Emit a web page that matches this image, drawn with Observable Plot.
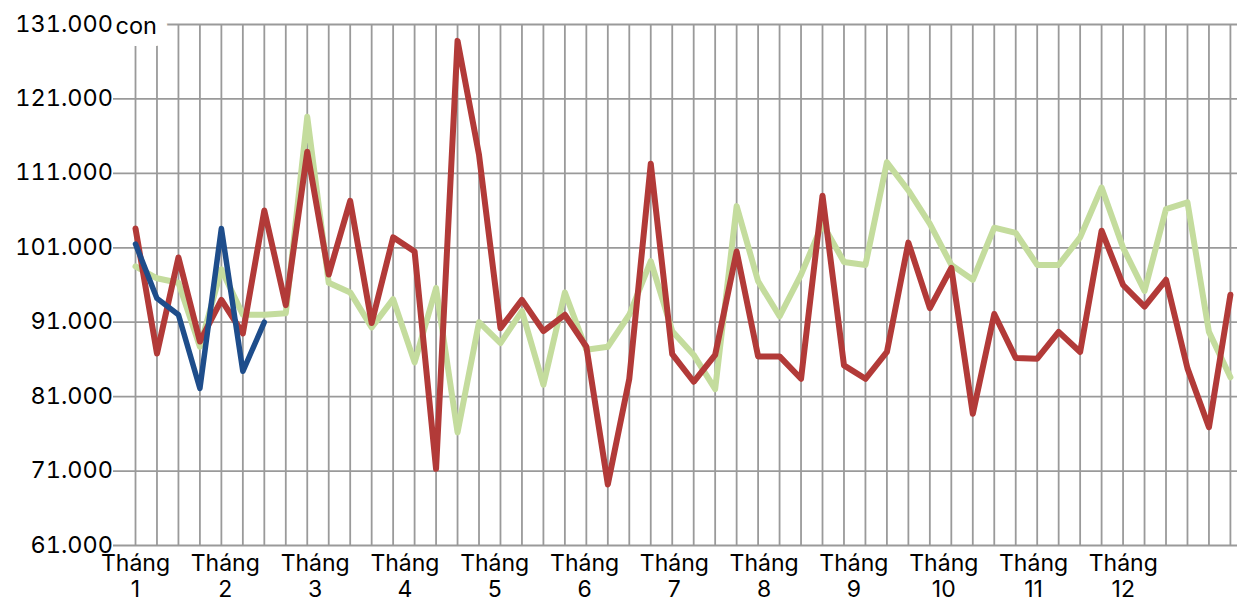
<!DOCTYPE html>
<html><head><meta charset="utf-8">
<script src="https://cdn.jsdelivr.net/npm/d3@7"></script>
<script src="https://cdn.jsdelivr.net/npm/@observablehq/plot@0.6"></script>
<style>html,body{margin:0;padding:0;background:#fff;overflow:hidden}</style>
</head><body><div id="chart"></div>
<script>
// week indices (1..52)
const weeks = d3.range(1, 53);

// series values (con)
const redValues = [103600, 86800, 99700, 88400, 94000, 89500, 106000, 93300, 113900, 97400,
  107300, 90900, 102400, 100500, 71300, 128800, 113500, 90200, 94000, 89800,
  92000, 87700, 69200, 83400, 112300, 86700, 83000, 86600, 100500, 86400,
  86400, 83400, 108000, 85200, 83400, 87000, 101700, 92900, 98300, 78700,
  92100, 86200, 86100, 89700, 87000, 103300, 96000, 93100, 96700, 84800,
  76900, 94700];
const greenValues = [98500, 96900, 96300, 87700, 98100, 92000, 92000, 92200, 118600, 96300,
  95000, 90300, 94100, 85600, 95600, 76200, 91000, 88200, 92500, 82600,
  95000, 87300, 87700, 92000, 99200, 89800, 86600, 82000, 106600, 96500,
  91800, 97400, 104200, 99100, 98700, 112500, 108700, 104200, 98700, 96700,
  103700, 103000, 98700, 98700, 102400, 109100, 101000, 95200, 106200, 107100,
  89700, 83600];
const blueValues = [101500, 94200, 92000, 82100, 103600, 84400, 91000];

// y ticks and labels
const yTicks = [61000, 71000, 81000, 91000, 101000, 111000, 121000, 131000];
const yTickLabels = ["61.000", "71.000", "81.000", "91.000", "101.000", "111.000", "121.000", "131.000"];
const yUnit = "con";

// month labels and their positions on the week axis
const monthLabels = ["Tháng 1", "Tháng 2", "Tháng 3", "Tháng 4", "Tháng 5", "Tháng 6",
  "Tháng 7", "Tháng 8", "Tháng 9", "Tháng 10", "Tháng 11", "Tháng 12"];
const monthPositions = [1, 5.18, 9.37, 13.55, 17.73, 21.92, 26.1, 30.28, 34.46, 38.65, 42.83, 47.01];

const toRows = (vals) => vals.map((v, i) => ({week: weeks[i], value: v}));
const xMin = -0.025, xMax = 52.33;

const chart = Plot.plot({
  width: 1237, height: 603,
  marginLeft: 113, marginRight: 0, marginTop: 24, marginBottom: 58,
  x: {domain: [xMin, xMax], axis: null},
  y: {domain: [61000, 131000], axis: null},
  style: {fontFamily: "Inter, 'Liberation Sans', sans-serif", fontSize: "23px", color: "#000", background: "#fff"},
  marks: [
    Plot.ruleY(yTicks, {stroke: "#9a9a9a", strokeWidth: 1.8}),
    Plot.ruleX(weeks, {y1: 61000, y2: 131000, stroke: "#9a9a9a", strokeWidth: 1.8}),
    Plot.text([yUnit], {x: xMin, y: 131000, text: d => d, textAnchor: "start", dx: 2, dy: 2,
      fill: "#000", stroke: "#fff", strokeWidth: 24, strokeLinejoin: "round", paintOrder: "stroke", fontSize: 23.5}),
    Plot.text(yTicks, {x: xMin, y: d => d, text: (d, i) => yTickLabels[i], textAnchor: "end",
      dx: (d) => d === 131000 ? -13 : -11,
      dy: (d) => d === 131000 ? 2 : 1, fill: "#000", fontSize: 23.5, fontVariant: "tabular-nums"}),
    Plot.text(monthPositions, {x: d => d, y: 61000, text: (d, i) => monthLabels[i].replace(" ", "\n"),
      lineAnchor: "top", dy: 7, lineHeight: 1.13, fill: "#000", fontSize: 23}),
    Plot.line(toRows(greenValues), {x: "week", y: "value", stroke: "#c4dc9d", strokeWidth: 6}),
    Plot.line(toRows(redValues), {x: "week", y: "value", stroke: "#b23a38", strokeWidth: 6}),
    Plot.line(toRows(blueValues), {x: "week", y: "value", stroke: "#1e4d8b", strokeWidth: 5.5})
  ]
});
document.getElementById("chart").appendChild(chart);
</script>
</body></html>
